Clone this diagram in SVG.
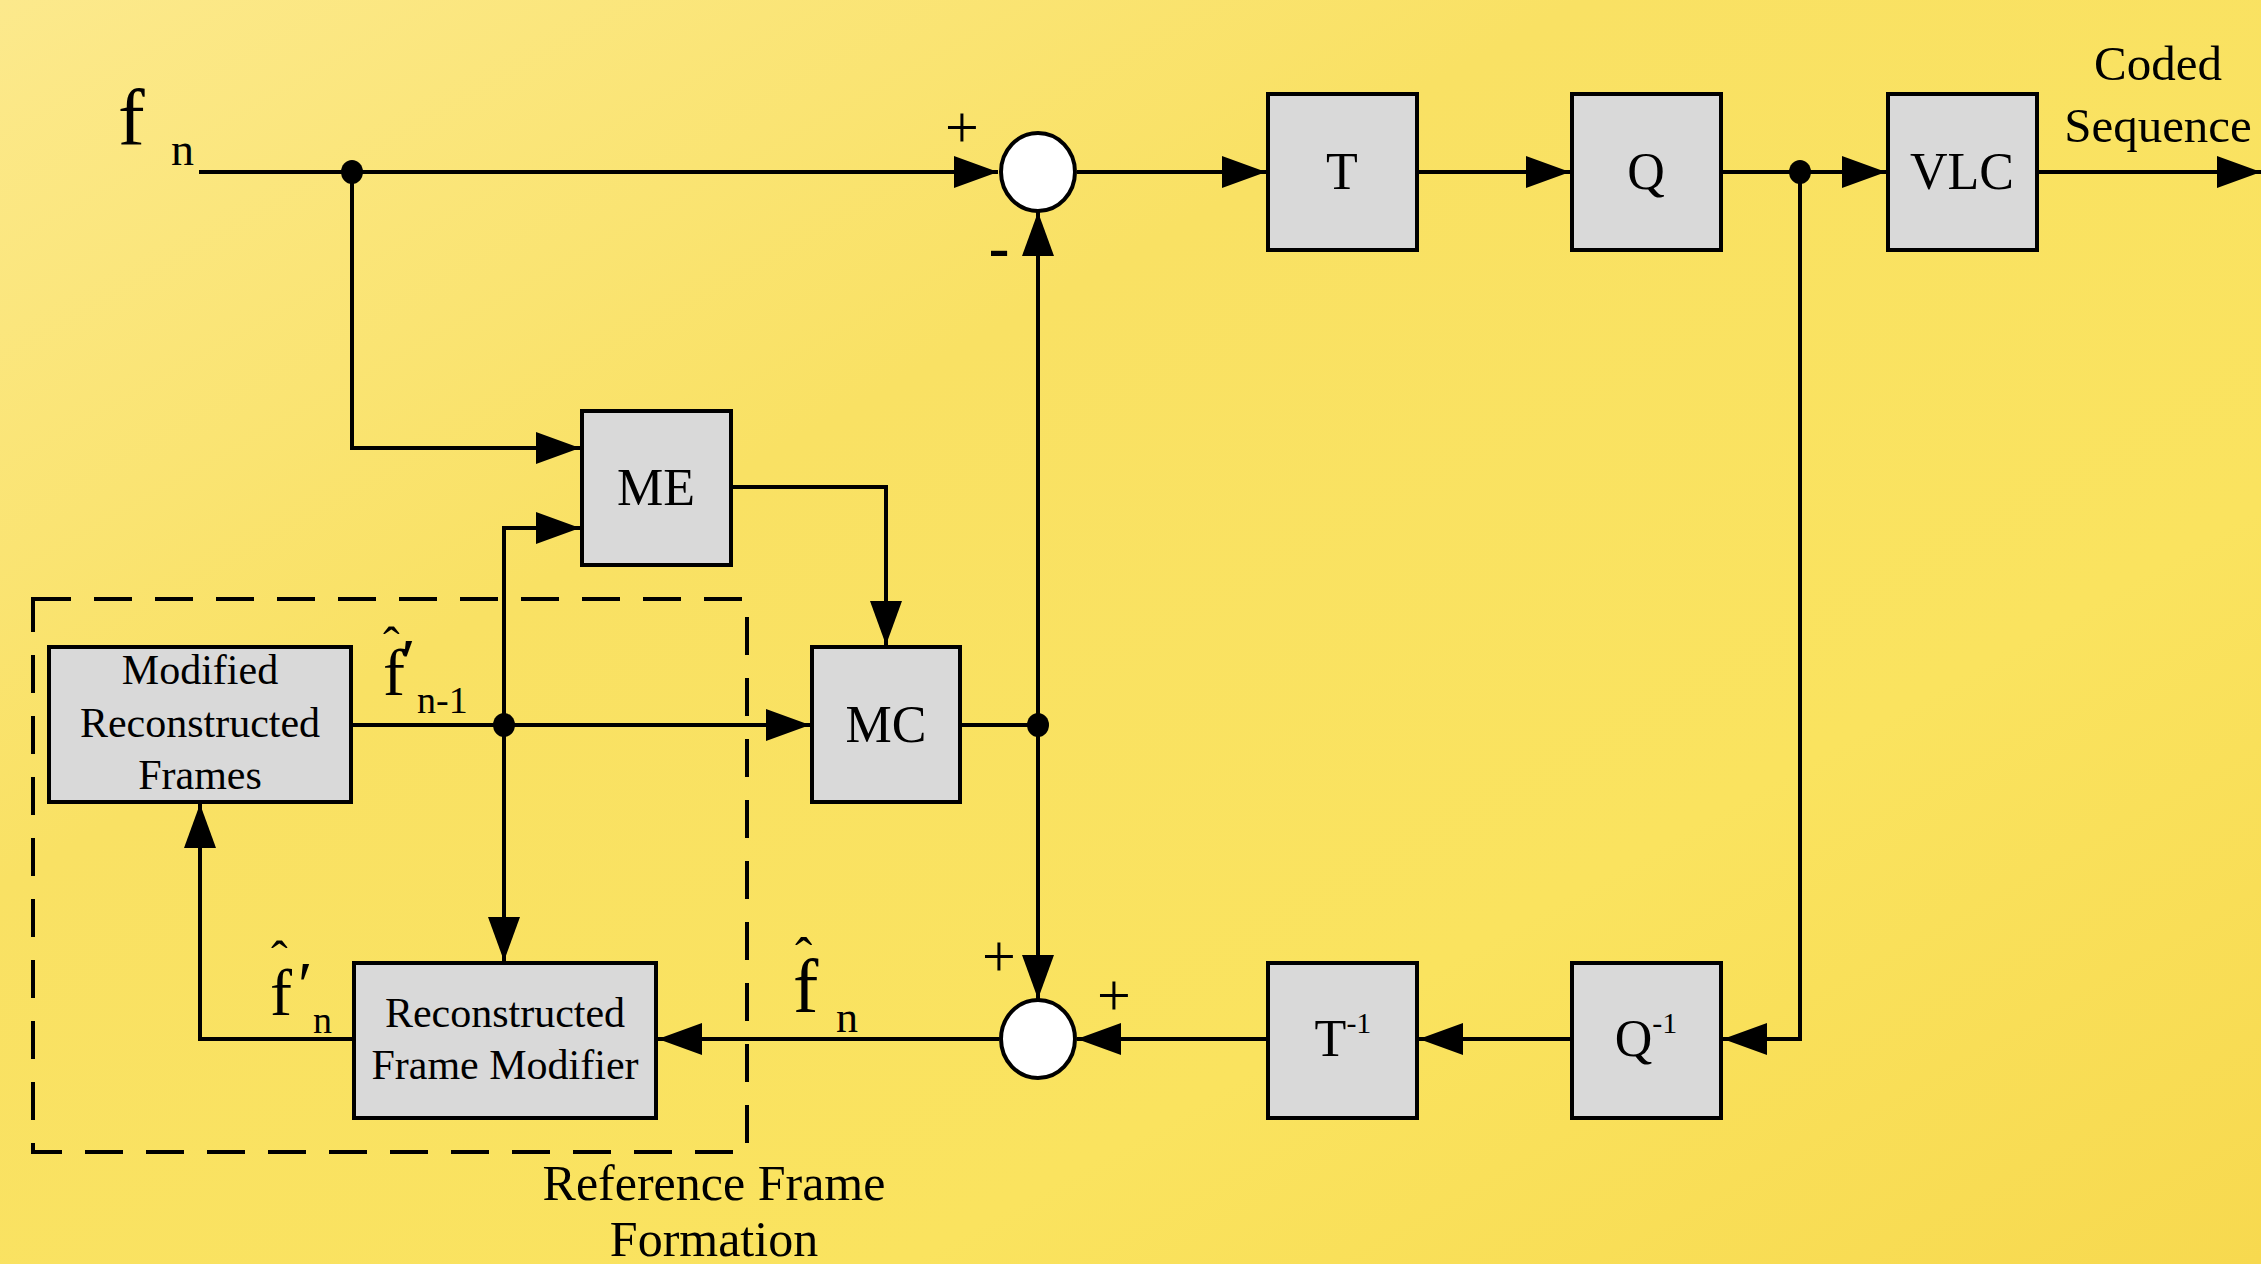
<svg xmlns="http://www.w3.org/2000/svg" width="2261" height="1264" viewBox="0 0 2261 1264">
  <defs>
    <linearGradient id="bg" x1="0" y1="0" x2="1" y2="1">
      <stop offset="0" stop-color="#fce98c"/>
      <stop offset="0.35" stop-color="#f9e164"/>
      <stop offset="0.7" stop-color="#fae35f"/>
      <stop offset="1" stop-color="#f7d94f"/>
    </linearGradient>
    <marker id="arr" markerUnits="userSpaceOnUse" markerWidth="44" markerHeight="32" refX="44" refY="16" orient="auto">
      <path d="M0,0 L44,16 L0,32 z" fill="#000"/>
    </marker>
    <style>
      .box { fill: #d9d9d9; stroke: #000; stroke-width: 4; }
      .sum { fill: #fff; stroke: #000; stroke-width: 4; }
      .wire { fill: none; stroke: #000; stroke-width: 4; }
      .arrow { marker-end: url(#arr); }
      .dot { fill: #000; }
      .lbl { font-family: "Liberation Serif", "Times New Roman", serif; fill: #000; }
      .big { font-size: 52px; text-anchor: middle; }
      .mid { font-size: 42px; text-anchor: middle; }
      .cap { font-size: 50px; text-anchor: middle; }
    </style>
  </defs>

  <rect x="0" y="0" width="2261" height="1264" fill="url(#bg)"/>

  <!-- dashed group boundary -->
  <g id="reference-frame-formation">
    <rect x="33" y="599" width="714" height="553" fill="none" stroke="#000" stroke-width="4" stroke-dasharray="38 23"/>
    <text class="lbl cap" x="714" y="1200">Reference Frame</text>
    <text class="lbl cap" x="714" y="1256">Formation</text>
  </g>

  <!-- connectors -->
  <g id="connectors">
    <path class="wire arrow" d="M199,172 H998"/>
    <path class="wire arrow" d="M1077,172 H1266"/>
    <path class="wire arrow" d="M1419,172 H1570"/>
    <path class="wire arrow" d="M1723,172 H1886"/>
    <path class="wire arrow" d="M2039,172 H2261"/>
    <path class="wire arrow" d="M352,172 V448 H580"/>
    <path class="wire arrow" d="M733,487 H886 V645"/>
    <path class="wire arrow" d="M353,725 H810"/>
    <path class="wire arrow" d="M504,725 V528 H580"/>
    <path class="wire arrow" d="M504,725 V961"/>
    <path class="wire" d="M962,725 H1038"/>
    <path class="wire arrow" d="M1038,725 V212"/>
    <path class="wire arrow" d="M1038,725 V999"/>
    <path class="wire arrow" d="M999,1039 H658"/>
    <path class="wire arrow" d="M1266,1039 H1077"/>
    <path class="wire arrow" d="M1570,1039 H1419"/>
    <path class="wire arrow" d="M1800,172 V1039 H1723"/>
    <path class="wire arrow" d="M352,1039 H200 V804"/>
    <ellipse class="dot" cx="352" cy="172" rx="11" ry="12"/>
    <ellipse class="dot" cx="1800" cy="172" rx="11" ry="12"/>
    <ellipse class="dot" cx="504" cy="725" rx="11" ry="12"/>
    <ellipse class="dot" cx="1038" cy="725" rx="11" ry="12"/>
  </g>

  <!-- nodes -->
  <g id="sum1">
    <ellipse class="sum" cx="1038" cy="172" rx="37" ry="39"/>
    <text class="lbl" x="962" y="147" font-size="60" text-anchor="middle">+</text>
    <text class="lbl" x="999" y="268" font-size="62" font-weight="bold" text-anchor="middle">-</text>
  </g>
  <g id="sum2">
    <ellipse class="sum" cx="1038" cy="1039" rx="37" ry="39"/>
    <text class="lbl" x="999" y="976" font-size="60" text-anchor="middle">+</text>
    <text class="lbl" x="1114" y="1015" font-size="60" text-anchor="middle">+</text>
  </g>
  <g id="T">
    <rect class="box" x="1268" y="94" width="149" height="156"/>
    <text class="lbl big" x="1342" y="189">T</text>
  </g>
  <g id="Q">
    <rect class="box" x="1572" y="94" width="149" height="156"/>
    <text class="lbl big" x="1646" y="189">Q</text>
  </g>
  <g id="VLC">
    <rect class="box" x="1888" y="94" width="149" height="156"/>
    <text class="lbl big" x="1962" y="189">VLC</text>
  </g>
  <g id="ME">
    <rect class="box" x="582" y="411" width="149" height="154"/>
    <text class="lbl big" x="656" y="505">ME</text>
  </g>
  <g id="MC">
    <rect class="box" x="812" y="647" width="148" height="155"/>
    <text class="lbl big" x="886" y="742">MC</text>
  </g>
  <g id="modified-reconstructed-frames">
    <rect class="box" x="49" y="647" width="302" height="155"/>
    <text class="lbl mid" x="200" y="684">Modified</text>
    <text class="lbl mid" x="200" y="737">Reconstructed</text>
    <text class="lbl mid" x="200" y="789">Frames</text>
  </g>
  <g id="reconstructed-frame-modifier">
    <rect class="box" x="354" y="963" width="302" height="155"/>
    <text class="lbl mid" x="505" y="1027">Reconstructed</text>
    <text class="lbl mid" x="505" y="1079">Frame Modifier</text>
  </g>
  <g id="T-inv">
    <rect class="box" x="1268" y="963" width="149" height="155"/>
    <text class="lbl big" x="1343" y="1056">T<tspan font-size="30" dy="-23">-1</tspan></text>
  </g>
  <g id="Q-inv">
    <rect class="box" x="1572" y="963" width="149" height="155"/>
    <text class="lbl big" x="1646" y="1056">Q<tspan font-size="30" dy="-23">-1</tspan></text>
  </g>
  <g id="coded-sequence">
    <text class="lbl" x="2158" y="80" font-size="49" text-anchor="middle">Coded</text>
    <text class="lbl" x="2158" y="142" font-size="49" text-anchor="middle">Sequence</text>
  </g>

  <!-- signal labels -->
  <g id="label-fn">
    <text class="lbl" x="118" y="145" font-size="80">f<tspan x="171" y="165" font-size="46">n</tspan></text>
  </g>
  <g id="label-fhat-prime-n-1">
    <text class="lbl" x="383" y="695" font-size="66">f<tspan x="401" y="684">′</tspan><tspan x="417" y="713" font-size="38">n-1</tspan><tspan x="383" y="662" font-size="50">ˆ</tspan></text>
  </g>
  <g id="label-fhat-prime-n">
    <text class="lbl" x="270" y="1015" font-size="66">f<tspan x="298" y="1007">′</tspan><tspan x="313" y="1033" font-size="38">n</tspan><tspan x="271" y="976" font-size="50">ˆ</tspan></text>
  </g>
  <g id="label-fhat-n">
    <text class="lbl" x="793" y="1012" font-size="76">f<tspan x="836" y="1032" font-size="44">n</tspan><tspan x="795" y="974" font-size="52">ˆ</tspan></text>
  </g>
</svg>
